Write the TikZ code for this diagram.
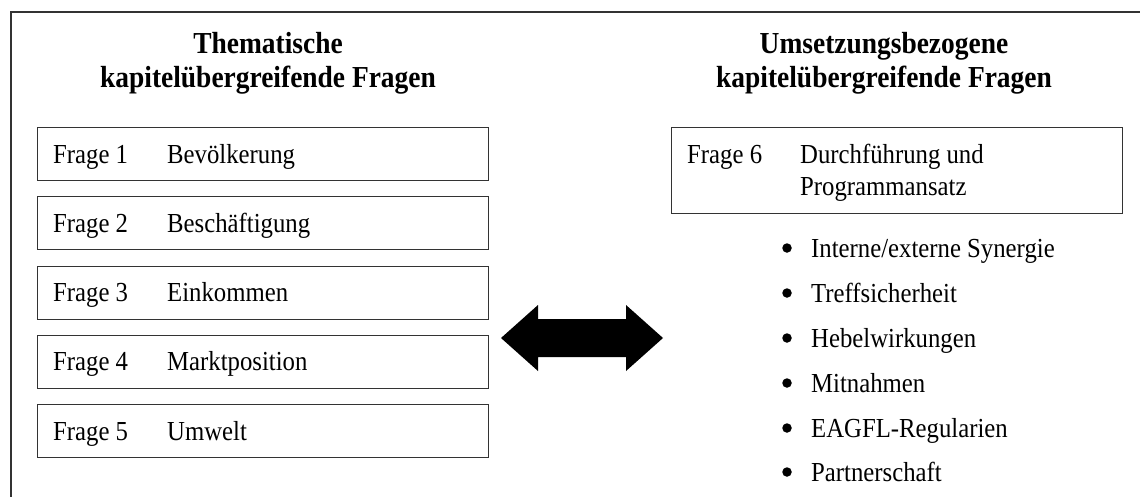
\documentclass[tikz,border=0pt]{standalone}
\usepackage{fontspec}
\setmainfont{Liberation Serif}[FakeStretch=0.9]
\begin{document}
\begin{tikzpicture}[x=1pt,y=-1pt,
  frame/.style={draw=black!80,line width=1.4pt},
  qbox/.style={draw=black!80,line width=1.2pt,rectangle,minimum width=451pt,inner sep=0pt},
  ttl/.style={anchor=base,inner sep=0pt,font=\fontsize{30.5}{36}\selectfont\bfseries},
  lbl/.style={anchor=base west,inner sep=0pt,font=\fontsize{27.5}{32}\selectfont},
  dot/.style={circle,fill=black,minimum size=9.5pt,inner sep=0pt}]
\useasboundingbox (0,0) rectangle (1140,496);
% outer frame
\coordinate (fbl) at (11,500);
\coordinate (ftl) at (11,12);
\coordinate (ftr) at (1145,12);
\draw[frame] (fbl) -- (ftl) -- (ftr);
% titles
\node[ttl] (tl1) at (268,53) {Thematische};
\node[ttl] (tl2) at (268,87) {kapitelübergreifende Fragen};
\node[ttl] (tr1) at (884,53) {Umsetzungsbezogene};
\node[ttl] (tr2) at (884,87) {kapitelübergreifende Fragen};
% left boxes
\foreach \i/\t/\y in {1/Bevölkerung/127,2/Beschäftigung/196.25,3/Einkommen/265.5,4/Marktposition/334.75,5/Umwelt/404}{
  \node[qbox,minimum height=53pt,anchor=north west] (b\i) at (37,\y) {};
  \node[lbl] (q\i) at (53,\y+36) {Frage \i};
  \node[lbl] (t\i) at (167,\y+36) {\t};
}
% right box
\node[qbox,minimum height=86pt,anchor=north west] (b6) at (671,127) {};
\node[lbl] (q6) at (687,163) {Frage 6};
\node[lbl] (t6a) at (800,163) {Durchführung und};
\node[lbl] (t6b) at (800,195) {Programmansatz};
% bullets
\foreach \j/\t/\y in {1/Interne\slash externe Synergie/257,2/Treffsicherheit/302,3/Hebelwirkungen/347,4/Mitnahmen/392,5/EAGFL-Regularien/437,6/Partnerschaft/481}{
  \node[dot] (d\j) at (787,\y-9) {};
  \node[lbl] (i\j) at (811,\y) {\t};
}
% double arrow
\fill[black] (501,338) -- (538,305) -- (538,319) -- (626,319) -- (626,305) -- (663,338)
  -- (626,371) -- (626,357) -- (538,357) -- (538,371) -- cycle;
\end{tikzpicture}
\end{document}
